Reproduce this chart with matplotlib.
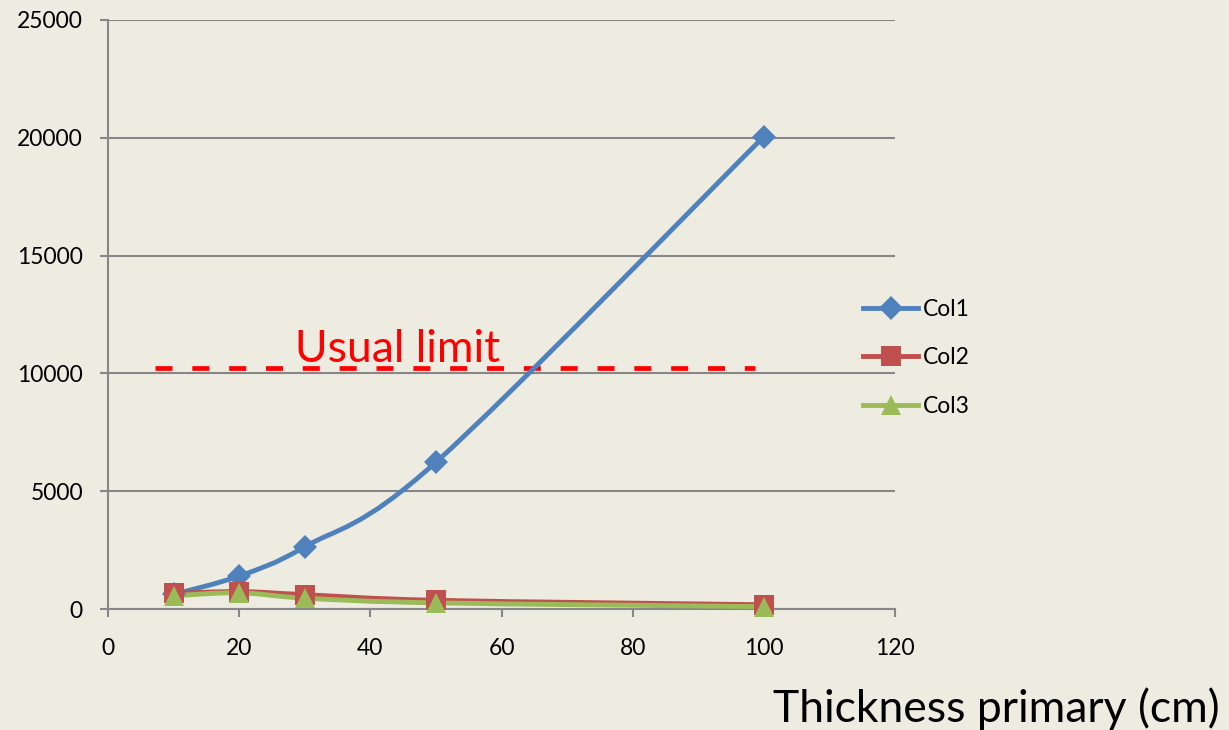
import matplotlib
matplotlib.use("Agg")
import matplotlib.pyplot as plt  # noqa: E402
from matplotlib.path import Path  # noqa: E402
from matplotlib.patches import PathPatch  # noqa: E402
from matplotlib.lines import Line2D  # noqa: E402
import numpy as np  # noqa: E402

plt.rcParams["font.family"] = ["Lato", "DejaVu Sans"]

# data
thickness = [10, 20, 30, 50, 100]
col1 = [620, 1400, 2640, 6230, 20050]
col2 = [660, 740, 610, 370, 180]
col3 = [560, 690, 460, 260, 100]
series_names = ["Col1", "Col2", "Col3"]
limit_value = 10230
limit_x = [7.2, 98.6]
limit_label = "Usual limit"
x_ticks = [0, 20, 40, 60, 80, 100, 120]
y_ticks = [0, 5000, 10000, 15000, 20000, 25000]

BG = "#eeece1"
GRID = "#878787"
colors = ["#4f81bd", "#c0504d", "#9bbb59"]
markers = ["D", "s", "^"]
msizes = [12, 14, 15]


def smooth_path(xs, ys):
    """Bezier path through the points (Catmull-Rom style, like Excel smoothing)."""
    pts = np.column_stack([xs, ys]).astype(float)
    n = len(pts)
    verts = [pts[0]]
    codes = [Path.MOVETO]
    for i in range(n - 1):
        p0 = pts[i - 1] if i > 0 else pts[i]
        p1 = pts[i]
        p2 = pts[i + 1]
        p3 = pts[i + 2] if i + 2 < n else pts[i + 1]
        c1 = p1 + (p2 - p0) / 6.0
        c2 = p2 - (p3 - p1) / 6.0
        verts += [c1, c2, p2]
        codes += [Path.CURVE4] * 3
    return Path(verts, codes)


fig = plt.figure(figsize=(12.29, 7.30), dpi=100, facecolor=BG)
ax = fig.add_axes([108 / 1229, 121 / 730, 787 / 1229, 589 / 730])
ax.set_facecolor(BG)

for ys, c, m, ms in zip([col1, col2, col3], colors, markers, msizes):
    ax.add_patch(PathPatch(smooth_path(thickness, ys), fill=False,
                           edgecolor=c, linewidth=3.5, capstyle="round",
                           joinstyle="round", zorder=3))
    ax.plot(thickness, ys, linestyle="none", marker=m, markersize=ms,
            color=c, markeredgewidth=0, zorder=4, clip_on=False)

# usual limit line and label
ax.plot(limit_x, [limit_value, limit_value], color="#ff0000", linewidth=3.4,
        dashes=(3.6, 4.2), zorder=2)
ax.text(28.5, 10480, limit_label, color="#ff0000", fontsize=32,
        ha="left", va="baseline", zorder=5)

ax.set_xlim(0, 120)
ax.set_ylim(0, 25000)
ax.set_xticks(x_ticks)
ax.set_yticks(y_ticks)
ax.tick_params(axis="both", colors=GRID, labelcolor="black", labelsize=16.5,
               length=6, width=1.5, direction="out")
ax.tick_params(axis="x", pad=15)
ax.tick_params(axis="y", pad=12)
ax.grid(axis="y", color=GRID, linewidth=1.5)
ax.set_axisbelow(True)
for side in ["top", "right"]:
    ax.spines[side].set_visible(False)
for side in ["left", "bottom"]:
    ax.spines[side].set_color(GRID)
    ax.spines[side].set_linewidth(1.5)
    ax.spines[side].set_zorder(1)

handles = [Line2D([], [], color=c, marker=m, markersize=ms, linewidth=3.5,
                  markeredgewidth=0)
           for c, m, ms in zip(colors, markers, msizes)]
fig.legend(handles, series_names, loc="center left",
           bbox_to_anchor=(863 / 1229, (730 - 358) / 730),
           frameon=False, fontsize=16.5, borderpad=0, borderaxespad=0,
           handlelength=2.4, handletextpad=0.2, labelspacing=1.2)

fig.text(1220 / 1229, 8 / 730, "Thickness primary (cm)", fontsize=32,
         ha="right", va="baseline")

fig.savefig("out.png", dpi=100, facecolor=BG)
